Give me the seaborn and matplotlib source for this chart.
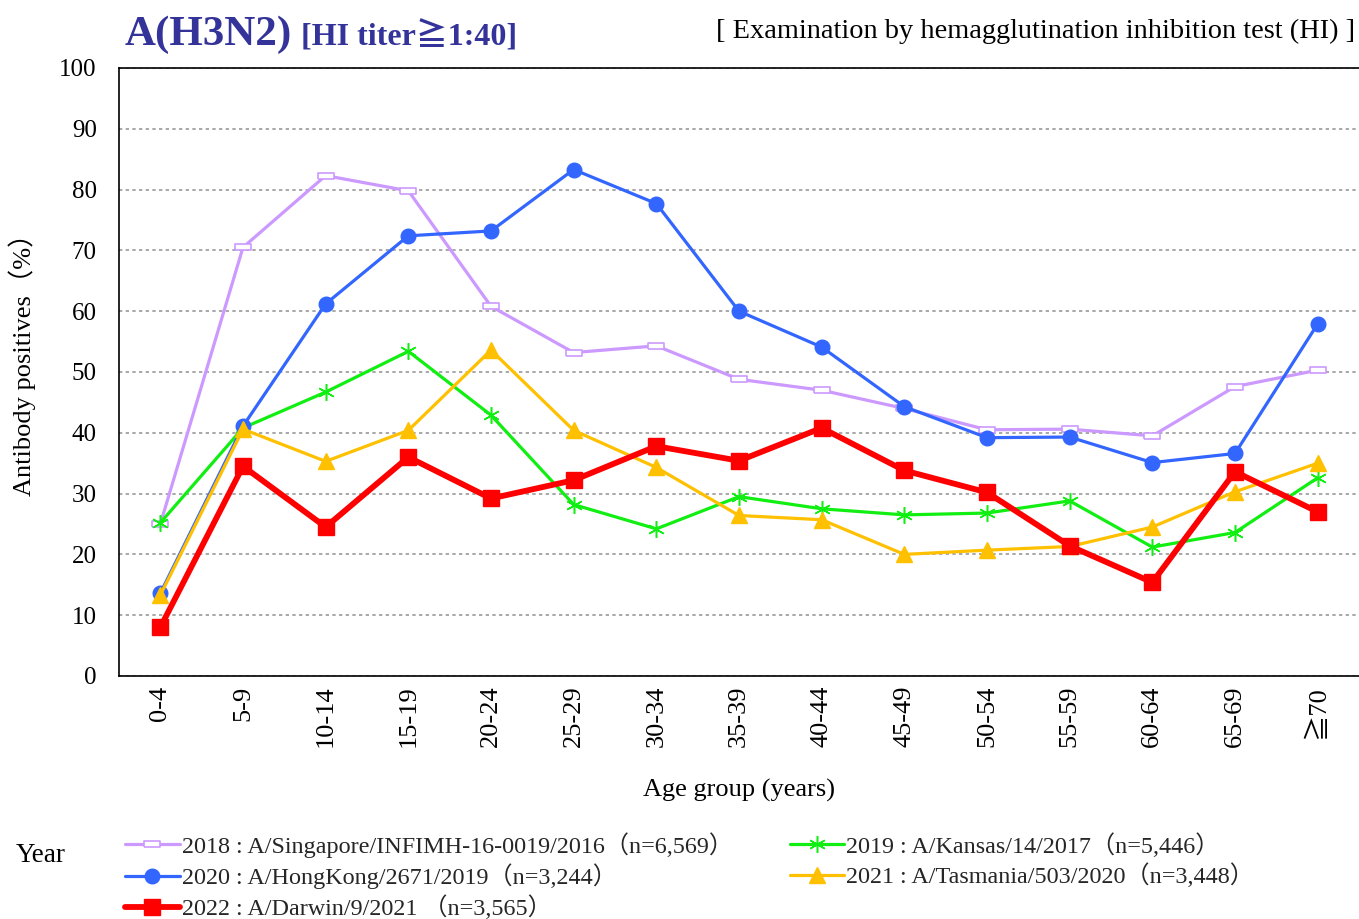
import matplotlib
matplotlib.use("Agg")
import matplotlib.pyplot as plt
import seaborn as sns
import pandas as pd
import numpy as np

age_groups = ["0-4", "5-9", "10-14", "15-19", "20-24", "25-29", "30-34", "35-39",
              "40-44", "45-49", "50-54", "55-59", "60-64", "65-69", "≧70"]

s2018 = [25.0, 70.5, 82.3, 79.8, 60.8, 53.2, 54.3, 48.8, 47.0, 44.0, 40.5, 40.6, 39.5, 47.6, 50.3]
s2019 = [25.2, 40.8, 46.7, 53.4, 42.9, 28.2, 24.2, 29.5, 27.5, 26.5, 26.8, 28.8, 21.2, 23.6, 32.6]
s2020 = [13.6, 41.1, 61.2, 72.4, 73.2, 83.3, 77.7, 60.0, 54.1, 44.3, 39.2, 39.3, 35.1, 36.6, 57.9]
s2021 = [13.3, 40.6, 35.3, 40.4, 53.6, 40.4, 34.3, 26.4, 25.7, 20.0, 20.7, 21.3, 24.5, 30.3, 35.0]
s2022 = [8.0, 34.5, 24.5, 36.0, 29.2, 32.2, 37.8, 35.4, 40.8, 33.8, 30.2, 21.4, 15.4, 33.6, 27.0]

labels = [
    "2018 : A/Singapore/INFIMH-16-0019/2016（n=6,569）",
    "2019 : A/Kansas/14/2017（n=5,446）",
    "2020 : A/HongKong/2671/2019（n=3,244）",
    "2021 : A/Tasmania/503/2020（n=3,448）",
    "2022 : A/Darwin/9/2021 （n=3,565）",
]
series = [s2018, s2019, s2020, s2021, s2022]

sns.set_theme(style="white")
serif = ["Liberation Serif", "Noto Sans CJK JP", "DejaVu Serif", "DejaVu Sans"]
plt.rcParams["font.family"] = serif

rect = [(-1, -0.35), (1, -0.35), (1, 0.35), (-1, 0.35), (-1, -0.35)]
styles = [
    dict(color="#CC99FF", lw=2.3, marker=rect, ms=11, mfc="white", mec="#CC99FF", mew=1.2),
    dict(color="#11EE11", lw=2.3, marker=(6, 2, 0), ms=12, mec="#11EE11", mew=1.1),
    dict(color="#3366FF", lw=2.3, marker="o", ms=10.5, mec="#3366FF"),
    dict(color="#FFC000", lw=2.3, marker="^", ms=11.5, mec="#FFC000"),
    dict(color="#FF0000", lw=4.2, marker="s", ms=11.5, mec="#FF0000"),
]

fig = plt.figure(figsize=(13.59, 9.19), dpi=100)
ax = fig.add_axes([119 / 1359, 1 - 676 / 919, 1 - 119 / 1359, (676 - 68) / 919])

handles = {}
for lab, vals, st in zip(labels, series, styles):
    df = pd.DataFrame({"age": age_groups, "val": vals})
    sns.lineplot(data=df, x="age", y="val", sort=False, ax=ax,
                 color=st["color"], linewidth=st["lw"], marker=st["marker"],
                 markersize=st["ms"], markerfacecolor=st.get("mfc", st["color"]),
                 markeredgecolor=st["mec"], markeredgewidth=st.get("mew", 1.0),
                 label=lab, legend=False)
    handles[lab] = ax.lines[-1]

ax.set_xlim(-0.5, len(age_groups) - 0.5)
ax.set_ylim(0, 100)
ax.set_yticks(np.arange(0, 101, 10))
ax.yaxis.grid(True, linestyle=(0, (2, 2)), color="#999999", linewidth=1.2)
ax.xaxis.grid(False)
for sp in ["left", "top", "bottom"]:
    ax.spines[sp].set_color("black")
    ax.spines[sp].set_linewidth(1.2)
ax.spines["right"].set_visible(False)
ax.tick_params(axis="both", length=0, colors="black")
ax.tick_params(axis="y", pad=16, labelsize=18)
ax.tick_params(axis="x", pad=7, labelsize=19)
for t in ax.get_xticklabels():
    t.set_rotation(90)

ax.set_xlabel("Age group (years)", fontsize=19, color="black", va="center")
ax.xaxis.set_label_coords(0.5, -(790 - 676) / 608)
ax.set_ylabel("Antibody positives（%）", fontsize=19, color="black", va="center")
ax.yaxis.set_label_coords(-(119 - 22) / 1240, 0.523)

fig.text(125 / 1359, 1 - 45 / 919, "A(H3N2)", fontsize=31, fontweight="bold",
         color="#333399", ha="left", va="baseline")
fig.text(301 / 1359, 1 - 45 / 919, "[HI titer≧1:40]", fontsize=23, fontweight="bold",
         color="#333399", ha="left", va="baseline")
fig.text(1355 / 1359, 1 - 38 / 919,
         "[ Examination by hemagglutination inhibition test (HI) ]",
         fontsize=20.4, color="black", ha="right", va="baseline")

fig.text(16 / 1359, 1 - 855 / 919, "Year", fontsize=19.5, color="black", ha="left", va="center")

order = [labels[0], labels[2], labels[4], labels[1], labels[3]]
leg = fig.legend([handles[l] for l in order], order, ncol=2,
                 loc="upper left", bbox_to_anchor=(125 / 1359, 1 - 832 / 919),
                 frameon=False, fontsize=17.4, handlelength=2.26, handletextpad=0.08,
                 labelspacing=0.25, columnspacing=2.36, borderaxespad=0, borderpad=0)

fig.savefig("out.png", dpi=100)
